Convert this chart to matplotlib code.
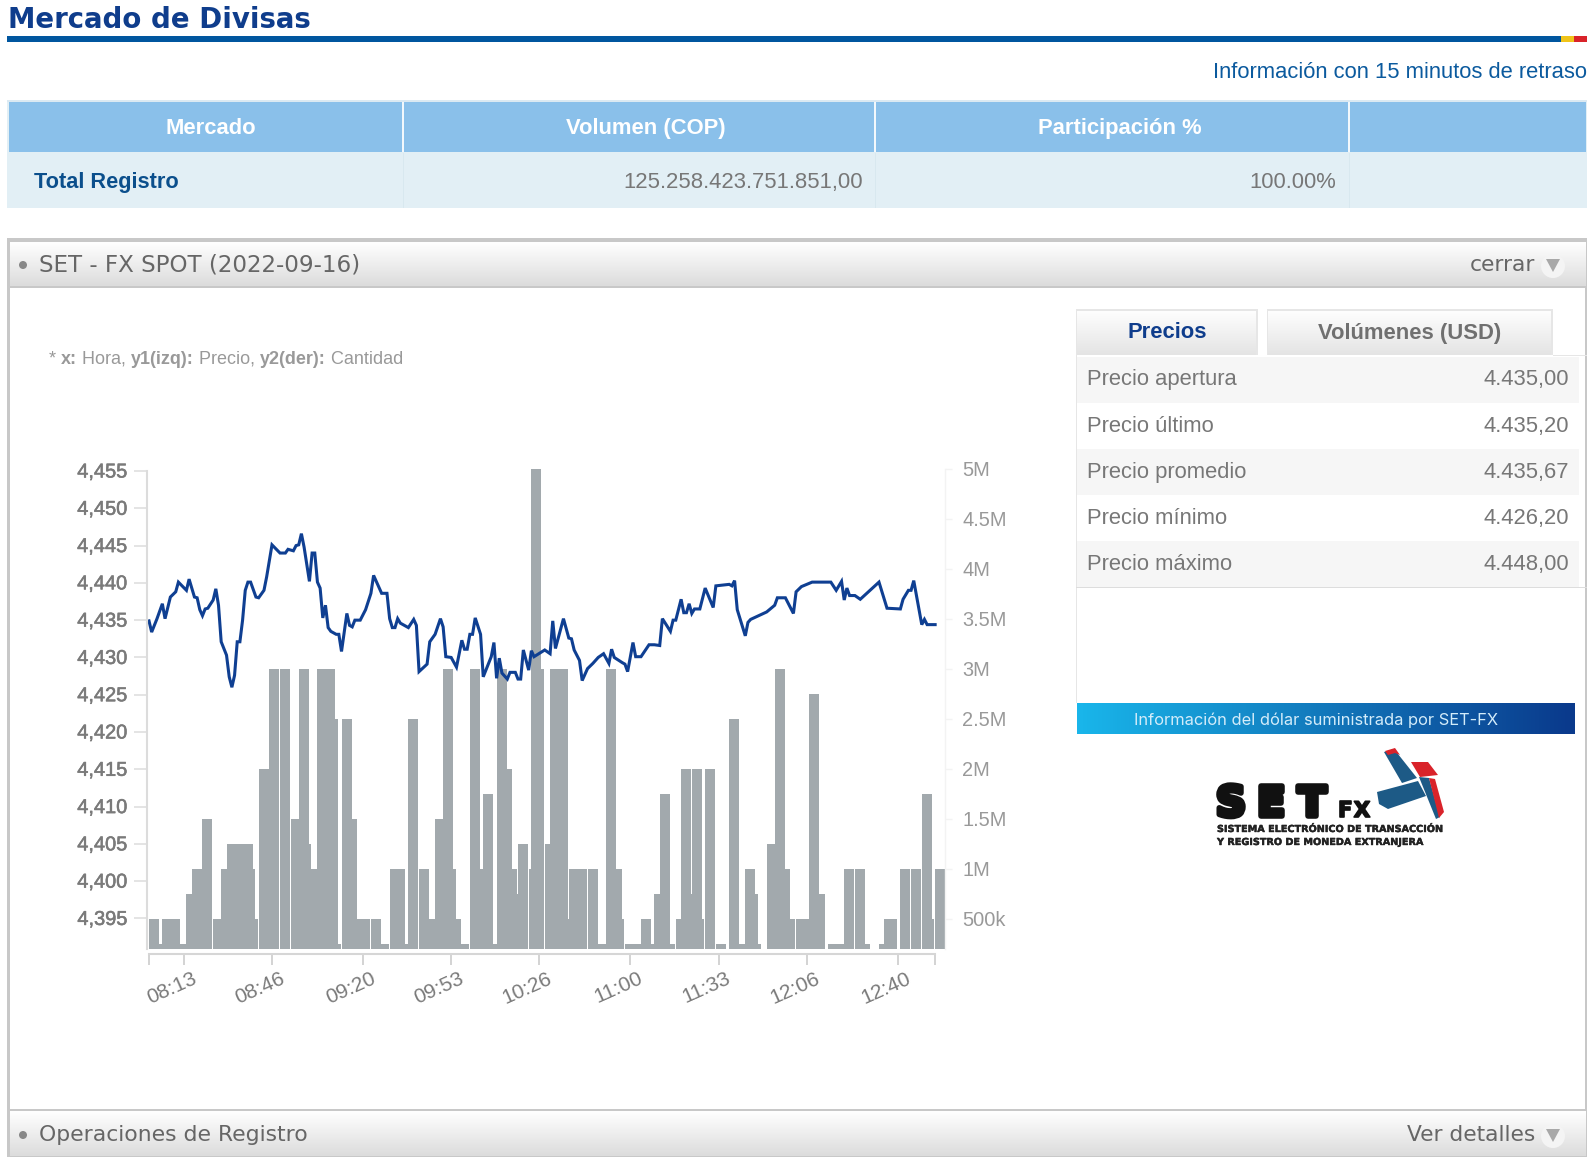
import numpy as np
import matplotlib
matplotlib.use("Agg")
from matplotlib import pyplot as plt
from matplotlib import patheffects as pe
from matplotlib.colors import LinearSegmentedColormap
from matplotlib.patches import Rectangle, Circle, Polygon
from matplotlib.transforms import ScaledTranslation

# Price line: minutes after 08:00, COP per USD
line_min = [0, 1, 3, 5, 6, 8, 10, 11, 14, 15, 17, 18, 19, 20, 21, 22, 24, 25, 26, 27, 29, 30, 31, 32, 33, 34, 35, 36, 37, 38,
            40, 41, 43, 44, 46, 49, 51, 52, 54, 55, 56, 57, 58, 60, 61, 62, 63, 64, 65, 66, 67, 68, 70, 71, 72, 74, 75, 76, 77, 79,
            81, 82, 83, 84, 87, 89, 90, 91, 92, 93, 94, 96, 97, 99, 100, 101, 104, 105, 107, 109, 110, 111, 113, 115, 117, 118, 119, 120, 121, 122,
            124, 125, 127, 128, 129, 130, 131, 132, 134, 135, 137, 138, 139, 140, 142, 143, 144, 148, 150, 151, 152, 155, 157, 158, 159, 161, 162, 164, 166, 168,
            170, 172, 173, 174, 177, 178, 179, 181, 182, 184, 187, 189, 191, 192, 195, 196, 197, 199, 200, 201, 202, 203, 204, 206, 208, 211, 212, 217, 218, 219,
            220, 223, 224, 225, 231, 234, 235, 238, 241, 242, 244, 248, 255, 257, 259, 260, 261, 262, 264, 266, 273, 276, 281, 282, 284, 285, 286, 289, 290, 291, 294]
line_price = [4434.9, 4433.4, 4435.2, 4437.2, 4435.2, 4438.1, 4438.8, 4440.1, 4439.0, 4440.5, 4438.1, 4438.0, 4436.4, 4435.6, 4436.5, 4436.6, 4437.7, 4439.2, 4437.0, 4432.1, 4430.3, 4427.4, 4426.0, 4427.6, 4432.1, 4432.1, 4435.0, 4439.0, 4440.1, 4440.1,
              4438.1, 4438.0, 4439.0, 4440.8, 4445.1, 4444.0, 4444.0, 4444.5, 4444.3, 4445.0, 4445.1, 4446.6, 4444.8, 4440.2, 4444.0, 4444.0, 4440.1, 4439.3, 4435.3, 4437.0, 4434.0, 4433.5, 4433.1, 4433.1, 4430.8, 4435.9, 4434.3, 4434.1, 4435.0, 4435.0,
              4436.4, 4437.5, 4438.6, 4441.0, 4438.6, 4438.6, 4435.2, 4434.0, 4434.0, 4435.2, 4434.6, 4434.2, 4434.0, 4435.1, 4434.3, 4428.1, 4429.1, 4432.1, 4433.1, 4435.2, 4434.1, 4430.1, 4430.0, 4428.7, 4432.3, 4431.1, 4431.1, 4433.1, 4433.1, 4435.3,
              4433.1, 4427.4, 4429.2, 4430.1, 4432.0, 4427.2, 4429.9, 4427.9, 4427.1, 4428.0, 4428.0, 4427.1, 4427.1, 4431.0, 4428.3, 4430.9, 4430.1, 4431.0, 4430.5, 4434.9, 4431.2, 4435.2, 4432.6, 4432.5, 4431.0, 4429.6, 4426.9, 4428.5, 4429.2, 4430.0,
              4430.5, 4429.2, 4431.1, 4430.0, 4429.3, 4429.1, 4428.1, 4432.0, 4430.1, 4430.1, 4431.7, 4431.7, 4431.6, 4435.2, 4433.5, 4435.0, 4435.0, 4437.8, 4436.0, 4436.0, 4437.2, 4435.9, 4436.5, 4436.5, 4439.3, 4436.7, 4439.6, 4439.8, 4439.6, 4440.3,
              4436.4, 4432.9, 4434.7, 4435.1, 4436.1, 4437.0, 4438.0, 4438.0, 4435.9, 4438.8, 4439.5, 4440.1, 4440.1, 4439.0, 4440.2, 4437.7, 4439.3, 4438.3, 4438.3, 4437.8, 4440.1, 4436.6, 4436.5, 4437.8, 4439.0, 4439.0, 4440.3, 4434.4, 4435.1, 4434.4, 4434.4]

# Volume bars: minutes after 08:00, amount in millions
bar_min = [0, 3, 5, 8, 10, 14, 16, 20, 24, 27, 29, 33, 35, 36, 37, 41, 45, 49, 53, 56, 57, 59, 63, 66, 67, 68, 72, 74, 75, 79,
           83, 86, 90, 92, 94, 97, 101, 104, 107, 110, 111, 113, 116, 120, 122, 125, 127, 130, 132, 134, 136, 138, 142, 143, 144, 148, 150, 153, 155, 157,
           160, 164, 168, 171, 173, 174, 178, 181, 184, 185, 189, 191, 193, 197, 199, 201, 203, 204, 208, 212, 217, 220, 223, 224, 225, 231, 234, 236, 238, 242,
           243, 247, 249, 254, 257, 260, 264, 266, 273, 275, 276, 281, 285, 289, 290, 294]
bar_vol = [0.5, 0.25, 0.5, 0.5, 0.25, 0.75, 1, 1.5, 0.5, 1, 1.25, 1.25, 1.25, 1, 0.5, 2, 3, 3, 1.5, 3, 1.25, 1, 3, 3, 2.5, 0.25, 2.5, 1.5, 0.5, 0.5,
           0.5, 0.25, 1, 1, 0.25, 2.5, 1, 0.5, 1.5, 3, 1, 0.5, 0.25, 3, 1, 1.75, 0.25, 3, 2, 1, 0.75, 1.25, 1, 5, 3, 1.25, 3, 3, 0.5, 1,
           1, 1, 0.25, 3, 1, 0.5, 0.25, 0.25, 0.5, 0.25, 0.75, 1.75, 0.25, 0.5, 2, 0.75, 2, 0.5, 2, 0.25, 2.5, 0.25, 1, 0.75, 0.25, 1.25, 3, 1, 0.5, 0.5,
           0.5, 2.75, 0.75, 0.25, 0.25, 1, 1, 0.25, 0.25, 0.5, 0.5, 1, 1, 1.75, 0.5, 1]

xtick_min = [0, 13, 46, 80, 113, 146, 180, 213, 246, 280, 294]
xtick_labels = ["", "08:13", "08:46", "09:20", "09:53", "10:26", "11:00", "11:33", "12:06", "12:40", ""]
price_ticks = list(range(4395, 4456, 5))
vol_ticks = [0.5, 1, 1.5, 2, 2.5, 3, 3.5, 4, 4.5, 5]
vol_labels = ["500k", "1M", "1.5M", "2M", "2.5M", "3M", "3.5M", "4M", "4.5M", "5M"]

table_head = ["Mercado", "Volumen (COP)", "Participación %"]
table_row = ["Total Registro", "125.258.423.751.851,00", "100.00%"]
stat_names = ["Precio apertura", "Precio último", "Precio promedio", "Precio mínimo", "Precio máximo"]
stat_values = ["4.435,00", "4.435,20", "4.435,67", "4.426,20", "4.448,00"]

W, H = 1596, 1163
SANS = "Liberation Sans"
VERD = "DejaVu Sans"
PT = 0.72  # one pixel in points at dpi 100
RIGHT = 1587

fig = plt.figure(figsize=(W / 100, H / 100), dpi=100, facecolor="white")

# page furniture is drawn in pixel coordinates
bg = fig.add_axes([0, 0, 1, 1])
bg.set_xlim(0, W)
bg.set_ylim(H, 0)
bg.axis("off")


def box(x0, y0, x1, y1, color, z=1):
    bg.add_patch(Rectangle((x0, y0), x1 - x0, y1 - y0, facecolor=color, edgecolor="none", zorder=z))


def grad(x0, y0, x1, y1, c0, c1, horizontal=False, z=1):
    cmap = LinearSegmentedColormap.from_list("g", [c0, c1])
    arr = np.linspace(0, 1, 64)
    arr = arr.reshape(1, -1) if horizontal else arr.reshape(-1, 1)
    bg.imshow(arr, cmap=cmap, extent=(x0, x1, y1, y0), aspect="auto", zorder=z, interpolation="bilinear")
    bg.set_xlim(0, W)
    bg.set_ylim(H, 0)


def label(x, y, s, size, color, ha="left", weight="normal", family=SANS, z=5):
    return bg.text(x, y, s, fontsize=size, color=color, ha=ha, va="center", fontweight=weight, family=family, zorder=z)


# title and rule
label(8, 20.5, "Mercado de Divisas", 19.9, "#0f3d8c", weight="bold", family=VERD)
box(7, 36, 1561, 42, "#00569f")
box(1561, 36, 1574, 42, "#f0c419")
box(1574, 36, RIGHT, 42, "#d9232a")
label(RIGHT, 72.5, "Información con 15 minutos de retraso", 15.8, "#0b5a9e", ha="right")

# summary table
cols = [9, 403, 875, 1349, RIGHT - 1]
head_x = [211, 645.5, 1119.5]
box(7, 100, RIGHT, 208, "#e2eff5")
box(9, 102, RIGHT - 1, 152, "#8ac0ea")
box(7, 100, RIGHT, 102, "#dbe9f2")
for cx in cols[1:-1]:
    box(cx - 1, 102, cx + 1, 152, "#f2f8fc", z=2)
    box(cx - 0.5, 153, cx + 0.5, 208, "#d8e8ef", z=2)
for xc, s in zip(head_x, table_head):
    t = label(xc, 128.5, s, 15.8, "white", ha="center", weight="bold")
label(34, 182.5, table_row[0], 15.7, "#0b4f8c", weight="bold")
label(863, 182.5, table_row[1], 15.9, "#777777", ha="right")
label(1336, 182.5, table_row[2], 15.8, "#777777", ha="right")

# collapsible panel
box(7, 238, RIGHT, 1157, "#c8c8c8")
box(9.5, 242, RIGHT - 2, 1155, "white")
grad(9.5, 242, RIGHT - 2, 286, "#ffffff", "#dcdcdc")
box(9.5, 286, RIGHT - 2, 288, "#c8c8c8", z=2)
grad(9.5, 1111, RIGHT - 2, 1156, "#ffffff", "#dcdcdc")
box(9.5, 1109, RIGHT - 2, 1111, "#c8c8c8", z=2)
for yc, left, right, left_size in [(265, "SET - FX SPOT (2022-09-16)", "cerrar", 16.55), (1135, "Operaciones de Registro", "Ver detalles", 15.75)]:
    bg.add_patch(Circle((23, yc), 4, facecolor="#888888", edgecolor="none", zorder=5))
    label(39, yc, left, left_size, "#666666", family=VERD)
    label(1535, yc, right, 15.7, "#666666", ha="right", family=VERD)
    bg.add_patch(Circle((1553, yc + 1), 12, facecolor="#f4f4f4", edgecolor="none", zorder=4))
    bg.add_patch(Polygon([(1546, yc - 6), (1560, yc - 6), (1553, yc + 7)], facecolor="#a8a8a8", edgecolor="none", zorder=5))

# chart note, bold and regular pieces set one after the other
note = [("* ", False), ("x:", True), (" Hora, ", False), ("y1(izq):", True), (" Precio, ", False), ("y2(der):", True), (" Cantidad", False)]
nx = 49
rend = fig.canvas.get_renderer()
for piece, bold in note:
    t = label(nx, 359, piece.replace(" ", "\u00a0"), 13.0, "#999999", weight="bold" if bold else "normal")
    nx = t.get_window_extent(rend).x1

# stats block
grad(1075.5, 309, 1257.5, 355, "#ffffff", "#e4e4e4")
grad(1266.5, 309, 1552.5, 355, "#ffffff", "#e4e4e4")
for x0, x1 in [(1075.5, 1257.5), (1266.5, 1552.5)]:
    box(x0, 309, x1, 310.5, "#e6e6e6", z=2)
    box(x0, 309, x0 + 1.5, 355, "#e6e6e6", z=2)
    box(x1 - 1.5, 309, x1, 355, "#e6e6e6", z=2)
label(1167, 333, "Precios", 15.8, "#0f3d8c", ha="center", weight="bold")
label(1410, 333, "Volúmenes (USD)", 15.8, "#707070", ha="center", weight="bold")
box(1552.5, 355, RIGHT, 356, "#e6e6e6")
box(1075.5, 355, 1077, 703, "#e6e6e6")
box(1075.5, 587, RIGHT, 588, "#dddddd")
for i, (name, val) in enumerate(zip(stat_names, stat_values)):
    yc = 380 + i * 46.1
    if i % 2 == 0:
        box(1077, yc - 23, 1579, yc + 23, "#f6f6f6")
    label(1087, yc, name, 15.85, "#777777")
    label(1569, yc, val, 15.85, "#777777", ha="right")

# SET-FX banner
grad(1077, 703, 1575, 734, "#19b5ea", "#0a3a8c", horizontal=True)
label(1316, 720, "Información del dólar suministrada por SET-FX", 11.85, "#d3ecfa", ha="center", family="Inter")

# SET-FX logo
heavy = [pe.withStroke(linewidth=4, foreground="#111111")]
for lx, ch in [(1231, "S"), (1271, "E"), (1312, "T")]:
    bg.text(lx, 816, ch, fontsize=30, color="#111111", ha="center", va="baseline", fontweight="bold", family=VERD, zorder=5, path_effects=heavy)
fxt = [pe.withStroke(linewidth=1.2, foreground="#111111")]
bg.text(1345, 817, "F", fontsize=15.5, color="#111111", ha="center", va="baseline", fontweight="bold", family=VERD, zorder=5, path_effects=fxt)
bg.text(1362, 817, "X", fontsize=15.5, color="#111111", ha="center", va="baseline", fontweight="bold", family=VERD, zorder=5, path_effects=fxt)
small = [pe.withStroke(linewidth=0.3, foreground="#222222")]
for yc, s in [(829, "SISTEMA ELECTRÓNICO DE TRANSACCIÓN"), (842, "Y REGISTRO DE MONEDA EXTRANJERA")]:
    label(1217, yc, s, 6.95, "#222222", weight="bold", family=VERD).set_path_effects(small)
logo_shapes = [
    ("#1d5a86", [(1384, 752), (1394, 749), (1417, 778), (1402, 783)]),
    ("#d9232a", [(1385, 751), (1395, 748), (1400, 755), (1395, 753), (1388, 755)]),
    ("#d9232a", [(1411, 762), (1428, 762), (1438, 775), (1420, 777)]),
    ("#1d5a86", [(1377, 792), (1418, 781), (1426, 796), (1388, 809), (1379, 804)]),
    ("#1d5a86", [(1419, 777), (1429, 778), (1440, 817), (1436, 819)]),
    ("#d9232a", [(1429, 778), (1435, 779), (1444, 812), (1439, 818)]),
]
for col, pts in logo_shapes:
    bg.add_patch(Polygon(pts, facecolor=col, edgecolor="none", zorder=3))

# chart axes, pixel box 146.5..945.3 by 469..949
ax = fig.add_axes([146.5 / W, 1 - 949 / H, (945.3 - 146.5) / W, 480 / H])
ax2 = ax.twinx()
ax.set_zorder(ax2.get_zorder() + 1)
ax.patch.set_visible(False)
ax2.patch.set_visible(False)

ax2.bar(bar_min, bar_vol, width=3.74, align="edge", color="#a2a9ad", linewidth=0)
ax.plot(line_min, line_price, color="#0f3f92", lw=2.2, solid_joinstyle="miter")

ax.set_xlim(-0.93, 297.8)
ax.set_ylim(4390.9, 4455.27)
ax2.set_ylim(0.2, 5)

ax.set_yticks(price_ticks)
ax.set_yticklabels([f"{p:,}" for p in price_ticks])
ax2.set_yticks(vol_ticks)
ax2.set_yticklabels(vol_labels)
ax.set_xticks(xtick_min)
ax.set_xticklabels(xtick_labels)

for s in ["top", "right"]:
    ax.spines[s].set_visible(False)
for s in ["top", "left", "bottom"]:
    ax2.spines[s].set_visible(False)
ax.spines["left"].set_color("#dcdcdc")
ax.spines["left"].set_linewidth(1.5)
ax.spines["left"].set_bounds(4390.9, 4455)
ax.spines["bottom"].set_position(("outward", 5 * PT))
ax.spines["bottom"].set_bounds(0, 294)
ax.spines["bottom"].set_color("#d6d6d6")
ax.spines["bottom"].set_linewidth(1.5)
ax2.spines["right"].set_color("#f3f3f3")
ax2.spines["right"].set_linewidth(1.0)

ax.tick_params(axis="y", length=13 * PT, width=1.1, color="#dcdcdc", pad=6 * PT, labelsize=14.4, labelcolor="#7a7a7a")
ax2.tick_params(axis="y", length=7 * PT, width=1.0, color="#f3f3f3", pad=10 * PT, labelsize=14.4, labelcolor="#999999")
ax.tick_params(axis="x", length=11 * PT, width=1.1, color="#c8c8c8", pad=4 * PT, labelsize=15, labelcolor="#7a7a7a")
for t in ax.get_yticklabels() + ax2.get_yticklabels() + ax.get_xticklabels():
    t.set_family(SANS)
lift = ScaledTranslation(0, 1 / 100, fig.dpi_scale_trans)
for t in ax.get_yticklabels():
    t.set_path_effects([pe.withStroke(linewidth=0.4, foreground="#7a7a7a")])
    t.set_transform(t.get_transform() + lift)
shift = ScaledTranslation(-12 / 100, 0, fig.dpi_scale_trans)
for t in ax.get_xticklabels():
    t.set_rotation(24)
    t.set_ha("center")
    t.set_transform(t.get_transform() + shift)

fig.savefig("out.png", dpi=100, facecolor="white")
